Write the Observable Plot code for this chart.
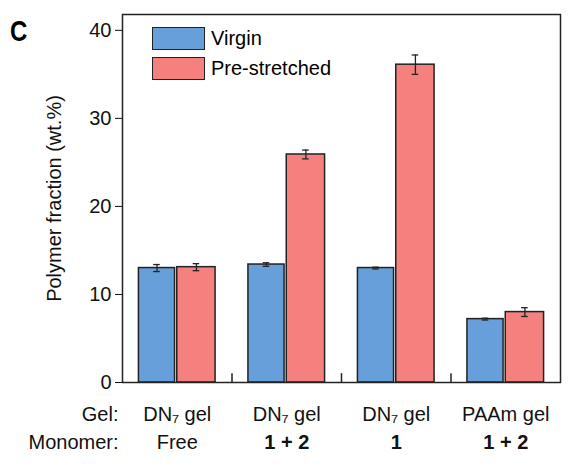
<!DOCTYPE html>
<html><head><meta charset="utf-8">
<script src="https://cdn.jsdelivr.net/npm/d3@7"></script>
<script src="https://cdn.jsdelivr.net/npm/@observablehq/plot@0.6"></script>
<style>
body{margin:0;background:#fff;font-family:"Liberation Sans",Arial,sans-serif}
#wrap{position:relative;width:586px;height:475px}
.lg{position:absolute;left:152px;width:53px;height:23px;border:1.5px solid #222;box-sizing:border-box}
.lt{position:absolute;left:211px;font-size:20px;line-height:23px}
</style></head><body>
<div id="wrap"><div id="chart"></div>
<div style="position:absolute;left:10px;top:14px;font-size:30px;font-weight:bold;transform:scaleX(0.8);transform-origin:left">C</div>
<div class="lg" style="top:27px;background:#669fd9"></div><div class="lt" style="top:27px">Virgin</div>
<div class="lg" style="top:57px;background:#f5817f"></div><div class="lt" style="top:57px">Pre-stretched</div>
</div>
<script>
const gels = ["DN₇ gel", "DN₇ gel", "DN₇ gel", "PAAm gel"];
const monomers = ["Free", "1 + 2", "1", "1 + 2"];
const virgin = [13.0, 13.4, 13.0, 7.2];
const virginErr = [0.4, 0.2, 0.1, 0.1];
const stretched = [13.1, 25.9, 36.1, 8.0];
const stretchedErr = [0.4, 0.5, 1.1, 0.5];

const colors = {Virgin: "#669fd9", "Pre-stretched": "#f5817f"};
const rows = [];
gels.forEach((g, i) => {
  rows.push({i, s: "Virgin", x1: i + 0.15, x2: i + 0.48, v: virgin[i], e: virginErr[i]});
  rows.push({i, s: "Pre-stretched", x1: i + 0.5, x2: i + 0.85, v: stretched[i], e: stretchedErr[i]});
});
const caps = rows.flatMap(d => [{...d, y: d.v - d.e}, {...d, y: d.v + d.e}]);
const labels = gels.map((g, i) => ({x: i + 0.5, g, m: monomers[i]}));
const mid = d => (d.x1 + d.x2) / 2;

const chart = Plot.plot({
  width: 586, height: 475,
  marginLeft: 122, marginRight: 26, marginTop: 14, marginBottom: 93,
  style: {fontFamily: "Liberation Sans, Arial, sans-serif", fontSize: "20px", color: "#111", overflow: "visible"},
  x: {domain: [0, 4], axis: null},
  y: {domain: [0, 41.8], ticks: [0, 10, 20, 30, 40], tickSize: 7, tickPadding: 4,
      label: "Polymer fraction (wt.%)", labelAnchor: "center", labelOffset: 76, labelArrow: false},
  marks: [
    Plot.rect(rows, {x1: "x1", x2: "x2", y1: 0, y2: "v", fill: d => colors[d.s], stroke: "#222", strokeWidth: 1.5}),
    Plot.ruleX(rows, {x: mid, y1: d => d.v - d.e, y2: d => d.v + d.e, stroke: "#222", strokeWidth: 1.3}),
    Plot.ruleY(caps, {y: "y", x1: d => mid(d) - 0.03, x2: d => mid(d) + 0.03, stroke: "#222", strokeWidth: 1.3}),
    Plot.ruleX([1, 2, 3], {y1: 0, y2: 1, stroke: "#222", strokeWidth: 1.5}),
    Plot.frame({stroke: "#222", strokeWidth: 1.5}),
    Plot.text(labels, {x: "x", y: 0, text: "g", dy: 32, fontSize: 20}),
    Plot.text(labels.filter(d => d.m === "Free"), {x: "x", y: 0, text: "m", dy: 60, fontSize: 20}),
    Plot.text(labels.filter(d => d.m !== "Free"), {x: "x", y: 0, text: "m", dy: 60, fontSize: 20, fontWeight: "bold"}),
    Plot.text(["Gel:"], {x: 0, y: 0, text: d => d, dy: 32, dx: -4, textAnchor: "end", fontSize: 20}),
    Plot.text(["Monomer:"], {x: 0, y: 0, text: d => d, dy: 60, dx: -4, textAnchor: "end", fontSize: 20})
  ]
});
document.getElementById("chart").append(chart);
</script></body></html>
